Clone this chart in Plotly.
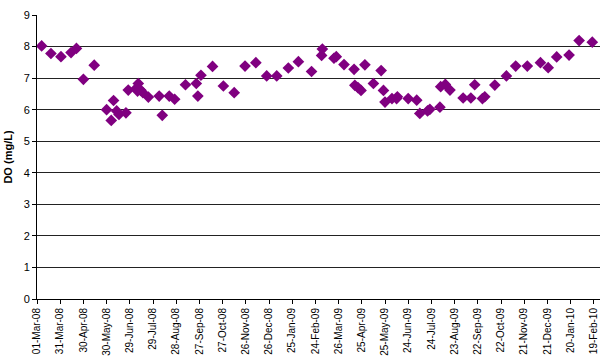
import plotly.graph_objects as go

# sampling dates and dissolved oxygen readings
dates = [
    "2008-03-07", "2008-03-19", "2008-04-01", "2008-04-14", "2008-04-21", "2008-04-30",
    "2008-05-14", "2008-05-30", "2008-06-05", "2008-06-08", "2008-06-12", "2008-06-15",
    "2008-06-24", "2008-06-27", "2008-07-07", "2008-07-09", "2008-07-10", "2008-07-13",
    "2008-07-16", "2008-07-23", "2008-08-06", "2008-08-10", "2008-08-19", "2008-08-26",
    "2008-09-09", "2008-09-23", "2008-09-25", "2008-09-29", "2008-10-14", "2008-10-28",
    "2008-11-11", "2008-11-25", "2008-12-09", "2008-12-23", "2009-01-05", "2009-01-20",
    "2009-02-02", "2009-02-19", "2009-03-04", "2009-03-05", "2009-03-20", "2009-03-23",
    "2009-04-02", "2009-04-15", "2009-04-16", "2009-04-20", "2009-04-24", "2009-04-29",
    "2009-05-10", "2009-05-20", "2009-05-23", "2009-05-25", "2009-06-03", "2009-06-09",
    "2009-06-10", "2009-06-24", "2009-07-05", "2009-07-09", "2009-07-19", "2009-07-22",
    "2009-08-04", "2009-08-05", "2009-08-11", "2009-08-17", "2009-09-03", "2009-09-13",
    "2009-09-18", "2009-09-28", "2009-10-01", "2009-10-14", "2009-10-29", "2009-11-10",
    "2009-11-25", "2009-12-12", "2009-12-22", "2010-01-02", "2010-01-18", "2010-01-31",
    "2010-02-17",
]
do_mgl = [
    8.02, 7.78, 7.68, 7.81, 7.94, 6.96,
    7.41, 6.00, 5.66, 6.29, 5.96, 5.85,
    5.90, 6.62, 6.67, 6.59, 6.83, 6.62,
    6.54, 6.40, 6.43, 5.82, 6.43, 6.33,
    6.79, 6.83, 6.43, 7.09, 7.37, 6.75,
    6.54, 7.38, 7.49, 7.07, 7.07, 7.32,
    7.52, 7.21, 7.72, 7.92, 7.63, 7.68,
    7.43, 7.28, 6.77, 6.70, 6.61, 7.42,
    6.83, 7.24, 6.61, 6.24, 6.35, 6.35,
    6.41, 6.35, 6.30, 5.88, 5.96, 6.01,
    6.08, 6.73, 6.80, 6.62, 6.37, 6.37,
    6.79, 6.35, 6.41, 6.78, 7.07, 7.38,
    7.38, 7.49, 7.33, 7.67, 7.73, 8.19,
    8.14,
]

fig = go.Figure(go.Scatter(
    x=dates, y=do_mgl, mode="markers",
    marker=dict(symbol="diamond", size=9, color="#800080"),
))

fig.update_layout(
    width=601, height=363,
    margin=dict(l=37, r=1, t=15, b=64),
    paper_bgcolor="white", plot_bgcolor="white",
    font=dict(family="Liberation Sans, Arial, sans-serif", color="black", size=11),
    showlegend=False,
)
fig.update_xaxes(
    type="date", range=["2008-03-01", "2010-02-27"],
    tick0="2008-03-01", dtick=30 * 86400000, tickformat="%d-%b-%y",
    tickangle=-90, tickfont=dict(size=10),
    ticks="outside", ticklen=4, tickcolor="black",
    showline=True, linecolor="black", linewidth=1,
    showgrid=False, zeroline=False, automargin=False,
)
fig.update_yaxes(
    range=[0, 9], dtick=1, tickfont=dict(size=11),
    ticks="outside", ticklen=4, tickcolor="black",
    showline=True, linecolor="black", linewidth=1,
    showgrid=True, gridcolor="#222", gridwidth=1, zeroline=False,
    title=dict(text="<b>DO (mg/L)</b>", font=dict(size=11), standoff=8),
    automargin=False,
)

# drop the page's default body margin so the chart sits at the window corner
fig.write_html("out.html", config={"displayModeBar": False},
               post_script="document.body.style.margin='0';")
